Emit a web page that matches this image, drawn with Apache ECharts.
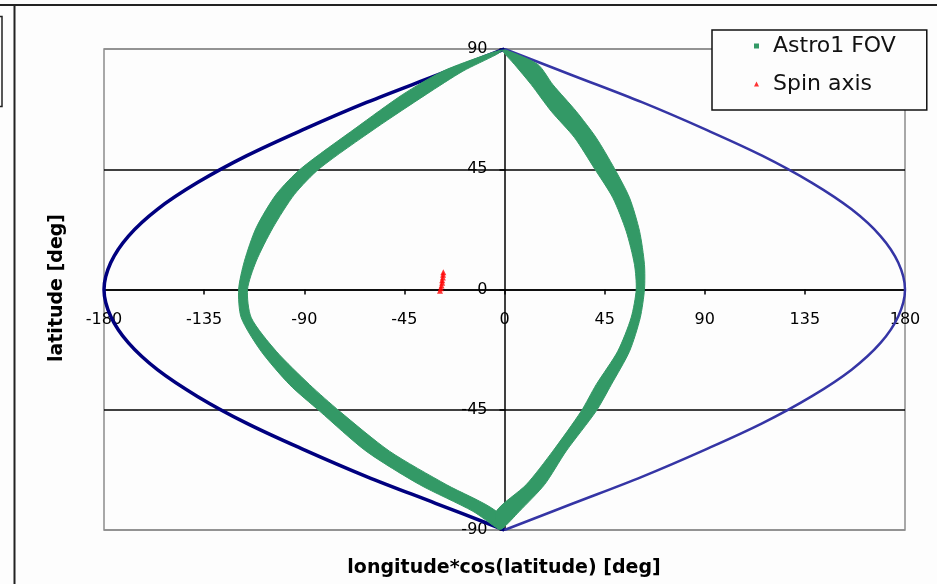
<!DOCTYPE html>
<html>
<head>
<meta charset="utf-8">
<script src="https://cdn.jsdelivr.net/npm/echarts@6/dist/echarts.min.js"></script>
<style>
  html, body { margin: 0; padding: 0; background: #fdfdfd; }
  #chart { width: 937px; height: 584px; }
</style>
</head>
<body>
<div id="chart"></div>
<script>
// tick labels
var xTickLabels = ['-180', '-135', '-90', '-45', '0', '45', '90', '135', '180'];
var yTickLabels = ['-90', '-45', '0', '45', '90'];

// sky boundary (lon = -180 / +180)
var boundaryLat = [90, 80, 70, 60, 50, 40, 30, 20, 10, 0, -10, -20, -30, -40, -50, -60, -70, -80, -90];
var westEdgeX = [0, -31, -62, -90, -116, -138, -156, -169, -177, -180, -177, -169, -156, -138, -116, -90, -62, -31, 0];
var eastEdgeX = [0, 31, 62, 90, 116, 138, 156, 169, 177, 180, 177, 169, 156, 138, 116, 90, 62, 31, 0];

// Astro1 FOV band, left branch (inner / outer edge)
var fovLeftLat = [89.5, 87.9, 81.7, 73, 60.5, 45.3, 35.6, 23.1, 10.6, 0, -10.6, -23.1, -35.6, -45.5, -60.5, -73, -83, -89.5];
var fovLeftInner = [-1, -3.7, -18.7, -35.2, -57.7, -83.1, -94.4, -104.1, -111.6, -115.5, -113.8, -102.6, -87.6, -74.2, -51.7, -26.2, -3.7, -2];
var fovLeftOuter = [-2, -8.2, -27.7, -45.7, -66.7, -91.4, -102.6, -111.6, -116.9, -119.5, -118.3, -109.4, -96.6, -83.1, -62.2, -38.2, -14.2, -3];

// Astro1 FOV band, right branch (inner / outer edge)
var fovRightLat = [89.5, 84.2, 76.7, 66.7, 56.8, 45.3, 34.3, 21.8, 9.4, 0, -10.6, -23.1, -35.6, -45.5, -60.5, -73, -83, -89.5];
var fovRightInner = [-1, 4.5, 12, 21, 31.5, 40.4, 48.7, 54.7, 58.4, 59.2, 56.9, 50.9, 41.2, 34.5, 21.7, 9.8, -3.7, -3];
var fovRightOuter = [1, 15, 21.7, 32.2, 41.2, 49.4, 56.2, 60.7, 62.9, 62.9, 61, 56.2, 48, 41.2, 27.7, 18, 6.7, -1];

// spin axis
var spinX = [-29, -28.6, -28.3, -28, -28, -27.7, -27.6, -27.5];
var spinLat = [-0.5, 0.5, 1.5, 2.5, 3.5, 4.5, 5.5, 6.5];

var FONT = 'DejaVu Sans';

function pairs(xs, ys) {
    var res = [];
    for (var i = 0; i < xs.length; i++) {
        res.push([xs[i], ys[i]]);
    }
    return res;
}

// one crescent polygon per branch: inner edge down, outer edge back up
function bandSeries(lat, inner, outer) {
    var pts = pairs(inner, lat).concat(pairs(outer, lat).reverse());
    return {
        name: 'Astro1 FOV',
        type: 'custom',
        silent: true,
        z: 3,
        itemStyle: { color: '#339966' },
        data: pts,
        renderItem: function (params, api) {
            if (params.dataIndex !== 0) return;
            return {
                type: 'polygon',
                shape: {
                    points: pts.map(function (p) { return api.coord(p); }),
                    smooth: 0.25
                },
                style: { fill: '#339966', stroke: '#339966', lineWidth: 1 }
            };
        }
    };
}

var myChart = echarts.init(document.getElementById('chart'));

var axisText = { color: '#000', fontSize: 16, fontFamily: FONT };

var option = {
    backgroundColor: '#fdfdfd',
    animation: false,
    grid: {
        left: 104, right: 32, top: 49, bottom: 54,
        show: true,
        borderColor: '#8c8c8c',
        borderWidth: 1.5
    },
    legend: {
        orient: 'vertical',
        left: 712,
        top: 30,
        padding: [5, 31, 15, 42],
        itemGap: 16,
        itemWidth: 5,
        itemHeight: 5,
        borderColor: '#111',
        borderWidth: 1.5,
        backgroundColor: '#fdfdfd',
        textStyle: { color: '#111', fontSize: 22, fontFamily: FONT, padding: [0, 0, 0, 9] },
        data: [
            { name: 'Astro1 FOV', icon: 'rect' },
            { name: 'Spin axis', icon: 'triangle' }
        ]
    },
    xAxis: {
        type: 'value',
        min: -180, max: 180, interval: 45,
        offset: -240.5,
        axisLine: { onZero: false, lineStyle: { color: '#000', width: 1.5 } },
        axisTick: { show: true, length: 5, lineStyle: { color: '#000', width: 1.5 } },
        axisLabel: Object.assign({ margin: 22, formatter: function (v, i) { return xTickLabels[i]; } }, axisText),
        splitLine: { show: false }
    },
    yAxis: {
        type: 'value',
        min: -90, max: 90, interval: 45,
        offset: -400.5,
        axisLine: { onZero: false, lineStyle: { color: '#000', width: 1.5 } },
        axisTick: { show: true, length: 5, lineStyle: { color: '#000', width: 1.5 } },
        axisLabel: Object.assign({ margin: 17, formatter: function (v, i) { return yTickLabels[i]; } }, axisText),
        splitLine: { show: true, lineStyle: { color: ['#8c8c8c', '#000', '#000', '#000', '#8c8c8c'], width: 1.5 } }
    },
    graphic: [
        { type: 'line', shape: { x1: 0, y1: 5, x2: 937, y2: 5 }, style: { stroke: '#222', lineWidth: 2 } },
        { type: 'line', shape: { x1: 14.5, y1: 5, x2: 14.5, y2: 584 }, style: { stroke: '#222', lineWidth: 2 } },
        { type: 'rect', shape: { x: -6, y: 16.5, width: 8, height: 90 }, style: { fill: 'none', stroke: '#222', lineWidth: 1.5 } },
        {
            type: 'text', x: 504, y: 568,
            style: { text: 'longitude*cos(latitude) [deg]', fill: '#000', font: 'bold 19px "DejaVu Sans"', align: 'center', verticalAlign: 'middle' }
        },
        {
            type: 'text', x: 57, y: 288, rotation: Math.PI / 2,
            style: { text: 'latitude [deg]', fill: '#000', font: 'bold 19px "DejaVu Sans"', align: 'center', verticalAlign: 'middle' }
        }
    ],
    series: [
        {
            name: 'west edge',
            type: 'line',
            data: pairs(westEdgeX, boundaryLat),
            smooth: 0.35,
            showSymbol: false,
            silent: true,
            z: 2,
            lineStyle: { color: '#00007f', width: 3.5 }
        },
        {
            name: 'east edge',
            type: 'line',
            data: pairs(eastEdgeX, boundaryLat),
            smooth: 0.35,
            showSymbol: false,
            silent: true,
            z: 2,
            lineStyle: { color: '#3535a5', width: 2.5 }
        },
        bandSeries(fovLeftLat, fovLeftInner, fovLeftOuter),
        bandSeries(fovRightLat, fovRightInner, fovRightOuter),
        {
            name: 'Spin axis',
            type: 'scatter',
            data: pairs(spinX, spinLat),
            symbol: 'triangle',
            symbolSize: 6,
            z: 4,
            itemStyle: { color: '#ff0000' }
        }
    ]
};

myChart.setOption(option);
</script>
</body>
</html>
